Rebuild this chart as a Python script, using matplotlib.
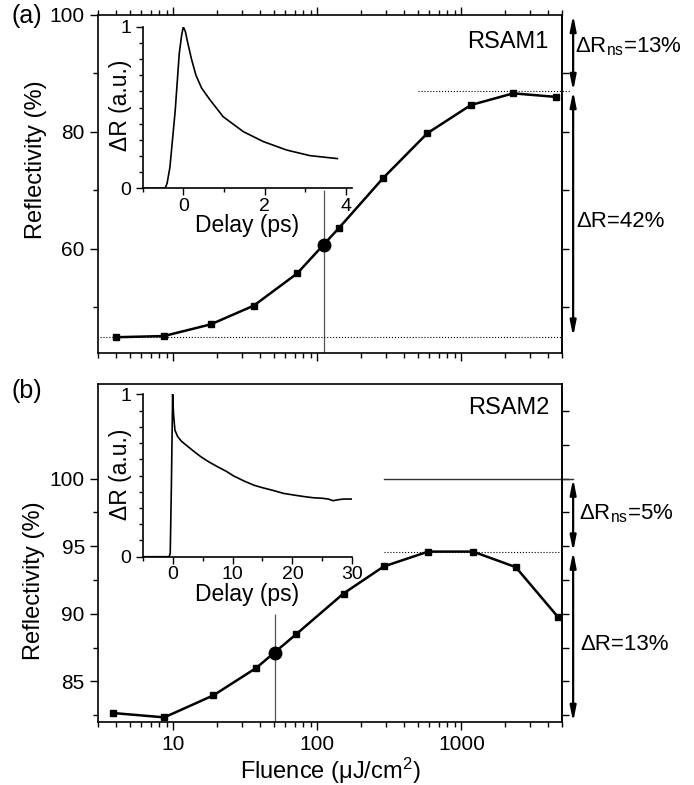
import matplotlib
matplotlib.use("Agg")
import matplotlib.pyplot as plt
from matplotlib.ticker import (FixedLocator, MultipleLocator, NullFormatter, NullLocator,
                               LogLocator, FuncFormatter)

plt.rcParams['font.family'] = ['Liberation Sans', 'DejaVu Sans']
plt.rcParams['mathtext.fontset'] = 'custom'
plt.rcParams['mathtext.rm'] = 'Liberation Sans'
plt.rcParams['mathtext.it'] = 'Liberation Sans:italic'

# (a) RSAM1 reflectivity vs fluence
fluence_a = [4.0, 8.6, 18.2, 36.2, 72.4, 141.6, 286, 582, 1164, 2291, 4510]
refl_a = [44.9, 45.1, 47.1, 50.3, 55.8, 63.6, 72.1, 79.8, 84.6, 86.6, 86.0]
marked_a = (111, 60.6)
r_low_a, r_high_a = 45.0, 87.0

# (b) RSAM2 reflectivity vs fluence
fluence_b = [3.82, 8.66, 19.0, 37.6, 71.5, 152, 289, 589, 1205, 2388, 4656]
refl_b = [82.66, 82.34, 83.97, 85.99, 88.5, 91.5, 93.5, 94.6, 94.6, 93.45, 89.8]
marked_b = (50.5, 87.1)
r_top_b, r_high_b = 100.0, 94.6

# inset traces
delay_a = [-1.0, -0.6, -0.45, -0.4, -0.33, -0.2, -0.1, -0.04, 0.0, 0.05, 0.1, 0.2, 0.31,
           0.45, 0.66, 0.98, 1.48, 1.97, 2.54, 3.12, 3.79]
dr_a = [0, 0, 0, 0.03, 0.13, 0.48, 0.835, 0.95, 1.0, 0.97, 0.91, 0.80, 0.70,
        0.62, 0.546, 0.443, 0.35, 0.289, 0.237, 0.202, 0.184]

delay_b = [-5, -0.6, -0.4, -0.2, 0.0, 0.15, 0.38, 0.83, 1.5, 2.5, 3.5, 4.7, 6, 7.5, 9, 10.2,
           12, 13.6, 15, 16.9, 18.5, 20.2, 22, 23.5, 25, 26, 26.8, 27.5, 28.5, 30]
dr_b = [0, 0, 0.02, 0.45, 1.0, 0.88, 0.78, 0.74, 0.71, 0.68, 0.65, 0.616, 0.585, 0.554, 0.525,
        0.497, 0.465, 0.44, 0.425, 0.407, 0.39, 0.38, 0.37, 0.363, 0.36, 0.355, 0.345, 0.35,
        0.355, 0.355]

fig = plt.figure(figsize=(6.94, 7.85), dpi=100)
ax1 = fig.add_axes([0.1412, 0.5503, 0.6686, 0.4306])
ax2 = fig.add_axes([0.1412, 0.0803, 0.6686, 0.4306])
ins1 = fig.add_axes([0.2056, 0.7601, 0.3016, 0.2059])
ins2 = fig.add_axes([0.2056, 0.2908, 0.3020, 0.2069])
ins1.patch.set_alpha(0)
ins2.patch.set_alpha(0)

tick_fs = 15
label_fs = 17

for ax in (ax1, ax2):
    ax.set_xscale('log')
    ax.set_xlim(3, 5000)
    ax.xaxis.set_major_locator(LogLocator(base=10))
    ax.xaxis.set_major_formatter(FuncFormatter(lambda v, p: f'{v:.0f}'))
    ax.xaxis.set_minor_locator(LogLocator(base=10, subs=range(2, 10)))
    ax.xaxis.set_minor_formatter(NullFormatter())
    ax.tick_params(which='both', direction='out', labelsize=tick_fs, width=1.0)
    ax.tick_params(which='major', length=6)
    ax.tick_params(which='minor', length=3.5)
    for s in ax.spines.values():
        s.set_linewidth(1.2)
    ax.set_ylabel('Reflectivity (%)', fontsize=label_fs)

ax1.yaxis.set_label_coords(-0.110, 0.571)
ax2.yaxis.set_label_coords(-0.114, 0.417)

# ---- panel (a)
ax1.plot(fluence_a, refl_a, color='black', lw=1.8, marker='s', ms=4.5, zorder=3)
ax1.plot(*marked_a, 'o', color='black', ms=9, zorder=4)
ax1.vlines(marked_a[0], 42.2, 70, color='#555555', lw=0.9)
ax1.set_ylim(42.2, 100)
ax1.yaxis.set_major_locator(FixedLocator([60, 80, 100]))
ax1.yaxis.set_minor_locator(FixedLocator([50, 70, 90]))
ax1.tick_params(axis='x', which='both', top=True, labelbottom=False)

ytr = ax1.get_yaxis_transform()
ax1.plot([0.005, 1.0], [r_low_a, r_low_a], ':', color='black', lw=0.8, transform=ytr)
ax1.plot([0.69, 1.017], [r_high_a, r_high_a], ':', color='black', lw=0.8, transform=ytr,
         clip_on=False)
sec1 = ax1.secondary_yaxis('right')
sec1.yaxis.set_major_locator(FixedLocator([50, 60, 70, 80, 90]))
sec1.yaxis.set_minor_locator(NullLocator())
sec1.tick_params(direction='out', length=5, width=1.0, labelright=False)
sec1.spines['right'].set_linewidth(1.2)

arrow = dict(arrowstyle='<|-|>,head_length=0.9,head_width=0.18', lw=1.6, color='black',
             shrinkA=0, shrinkB=0)
ax1.annotate('', xy=(1.024, 100), xytext=(1.024, r_high_a), xycoords=ytr, textcoords=ytr,
             arrowprops=arrow, annotation_clip=False)
ax1.annotate('', xy=(1.024, r_high_a), xytext=(1.024, r_low_a), xycoords=ytr, textcoords=ytr,
             arrowprops=arrow, annotation_clip=False)
ax1.text(0.970, 0.920, 'RSAM1', transform=ax1.transAxes, ha='right', va='center',
         fontsize=label_fs)
ax1.text(1.028, 0.888, 'ΔR$_{\\rm ns}$=13%', transform=ax1.transAxes, ha='left',
         va='baseline', fontsize=16)
ax1.text(1.032, 0.388, 'ΔR=42%', transform=ax1.transAxes, ha='left', va='center',
         fontsize=16)

# ---- panel (b)
ax2.plot(fluence_b, refl_b, color='black', lw=1.8, marker='s', ms=4.5, zorder=3)
ax2.plot(*marked_b, 'o', color='black', ms=9, zorder=4)
ax2.vlines(marked_b[0], 82.0, 90, color='#555555', lw=0.9)
ax2.set_ylim(82.0, 107.0)
ax2.yaxis.set_major_locator(FixedLocator([85, 90, 95, 100]))
ax2.yaxis.set_minor_locator(FixedLocator([82.5, 87.5, 92.5, 97.5]))
ax2.set_xlabel('Fluence (μJ/cm$^2$)', fontsize=label_fs, labelpad=1)

ytr2 = ax2.get_yaxis_transform()
ax2.plot([0.616, 1.024], [r_top_b, r_top_b], '-', color='#333333', lw=1.0, transform=ytr2,
         clip_on=False)
ax2.plot([0.616, 1.0], [r_high_b, r_high_b], ':', color='black', lw=0.8, transform=ytr2)
sec2 = ax2.secondary_yaxis('right')
sec2.yaxis.set_major_locator(MultipleLocator(2.5))
sec2.yaxis.set_minor_locator(NullLocator())
sec2.tick_params(direction='out', length=5, width=1.0, labelright=False)
sec2.spines['right'].set_linewidth(1.2)

ax2.annotate('', xy=(1.024, r_top_b), xytext=(1.024, r_high_b), xycoords=ytr2, textcoords=ytr2,
             arrowprops=arrow, annotation_clip=False)
ax2.annotate('', xy=(1.024, r_high_b), xytext=(1.024, 82.0), xycoords=ytr2, textcoords=ytr2,
             arrowprops=arrow, annotation_clip=False)
ax2.text(0.972, 0.929, 'RSAM2', transform=ax2.transAxes, ha='right', va='center',
         fontsize=label_fs)
ax2.text(1.037, 0.598, 'ΔR$_{\\rm ns}$=5%', transform=ax2.transAxes, ha='left',
         va='baseline', fontsize=16)
ax2.text(1.039, 0.228, 'ΔR=13%', transform=ax2.transAxes, ha='left', va='center',
         fontsize=16)

# ---- insets
for ins in (ins1, ins2):
    ins.spines['top'].set_visible(False)
    ins.spines['right'].set_visible(False)
    for s in ('left', 'bottom'):
        ins.spines[s].set_linewidth(1.2)
    ins.set_ylim(0, 1)
    ins.yaxis.set_major_locator(FixedLocator([0, 1]))
    ins.yaxis.set_minor_locator(MultipleLocator(0.1))
    ins.tick_params(which='both', direction='out', labelsize=tick_fs - 1, width=1.0)
    ins.tick_params(which='major', length=5)
    ins.tick_params(which='minor', length=3)
    ins.tick_params(axis='x', pad=2)
    ins.set_ylabel('ΔR (a.u.)', fontsize=label_fs - 0.5)
    ins.set_xlabel('Delay (ps)', fontsize=label_fs - 0.5, labelpad=-0.5)

ins1.yaxis.set_label_coords(-0.051, 0.515)
ins2.yaxis.set_label_coords(-0.051, 0.506)

ins1.plot(delay_a, dr_a, color='black', lw=1.2)
ins1.set_xlim(-1, 4.15)
ins1.xaxis.set_major_locator(MultipleLocator(2))
ins1.xaxis.set_minor_locator(MultipleLocator(1))

ins2.plot(delay_b, dr_b, color='black', lw=1.2)
ins2.set_xlim(-5, 30)
ins2.xaxis.set_major_locator(MultipleLocator(10))
ins2.xaxis.set_minor_locator(MultipleLocator(5))

fig.text(0.017, 0.980, '(a)', fontsize=18, ha='left', va='center')
fig.text(0.017, 0.502, '(b)', fontsize=18, ha='left', va='center')

fig.savefig('out.png', dpi=100)
